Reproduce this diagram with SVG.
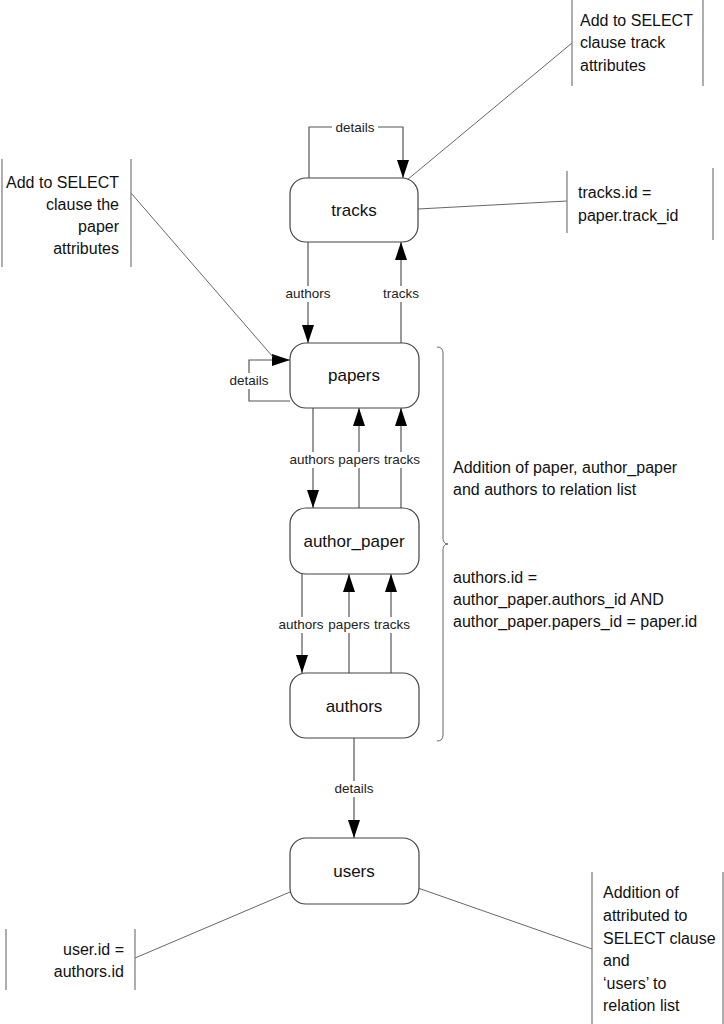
<svg xmlns="http://www.w3.org/2000/svg" width="724" height="1024" viewBox="0 0 724 1024">
<defs>
<marker id="arr" markerUnits="userSpaceOnUse" markerWidth="18" markerHeight="12" viewBox="0 0 18 12" refX="18" refY="6" orient="auto">
<path d="M0,0 L18,6 L0,12 Z" fill="#000"/>
</marker>
<style>
.node rect{fill:#fff;stroke:#444;stroke-width:1.2}
.node text{font-family:"Liberation Sans",Arial,sans-serif;font-size:17px;fill:#111;text-anchor:middle}
.c{fill:none;stroke:#555;stroke-width:1.2}
.a{marker-end:url(#arr)}
.lbl{font-family:"Liberation Sans",Arial,sans-serif;font-size:13.5px;fill:#222;text-anchor:middle}
.bg{fill:#fff}
.note{font-family:"Liberation Sans",Arial,sans-serif;font-size:16px;fill:#111}
.bar{stroke:#777;stroke-width:1.2}
.lead{stroke:#555;stroke-width:0.9;fill:none}
</style>
</defs>
<rect width="724" height="1024" fill="#fff"/>

<g id="connectors">
<path class="c a" d="M309,178 V127 H403 V178"/>
<rect class="bg" x="332" y="120" width="46" height="15"/>
<text class="lbl" x="355" y="132">details</text>
<line class="c a" x1="308" y1="242" x2="308" y2="343"/>
<rect class="bg" x="282" y="286" width="52" height="16"/>
<text class="lbl" x="308" y="298">authors</text>
<line class="c a" x1="401" y1="343" x2="401" y2="242"/>
<rect class="bg" x="380" y="286" width="42" height="16"/>
<text class="lbl" x="401" y="298">tracks</text>
<path class="c a" d="M290,401 H249 V360 H290"/>
<rect class="bg" x="225" y="373" width="48" height="16"/>
<text class="lbl" x="249" y="385">details</text>
<line class="c a" x1="313" y1="408" x2="313" y2="508"/>
<line class="c a" x1="359" y1="508" x2="359" y2="408"/>
<line class="c a" x1="401" y1="508" x2="401" y2="408"/>
<rect class="bg" x="286" y="452" width="138" height="16"/>
<text class="lbl" x="312" y="464">authors</text>
<text class="lbl" x="359" y="464">papers</text>
<text class="lbl" x="402" y="464">tracks</text>
<line class="c a" x1="302" y1="574" x2="302" y2="673"/>
<line class="c a" x1="349" y1="673" x2="349" y2="574"/>
<line class="c a" x1="391" y1="673" x2="391" y2="574"/>
<rect class="bg" x="275" y="617" width="138" height="16"/>
<text class="lbl" x="301" y="629">authors</text>
<text class="lbl" x="349" y="629">papers</text>
<text class="lbl" x="392" y="629">tracks</text>
<line class="c a" x1="354" y1="738" x2="354" y2="838"/>
<rect class="bg" x="330" y="781" width="48" height="16"/>
<text class="lbl" x="354" y="793">details</text>
<line class="lead" x1="407" y1="180" x2="572" y2="43"/>
<line class="lead" x1="418" y1="209" x2="567" y2="201"/>
<line class="lead" x1="131" y1="193" x2="273" y2="357"/>
<line class="lead" x1="135" y1="958" x2="290" y2="892"/>
<line class="lead" x1="418" y1="888" x2="592" y2="949"/>
</g>

<g id="tracks" class="node">
<rect x="290" y="178" width="128" height="64" rx="16"/>
<text x="354" y="216">tracks</text>
</g>
<g id="papers" class="node">
<rect x="290" y="343" width="129" height="65" rx="16"/>
<text x="354" y="381">papers</text>
</g>
<g id="author_paper" class="node">
<rect x="290" y="508" width="129" height="66" rx="16"/>
<text x="354" y="547">author_paper</text>
</g>
<g id="authors" class="node">
<rect x="290" y="673" width="129" height="65" rx="16"/>
<text x="354" y="712">authors</text>
</g>
<g id="users" class="node">
<rect x="290" y="838" width="129" height="66" rx="16"/>
<text x="354" y="877">users</text>
</g>

<g id="note-track-attrs">
<line class="bar" x1="572" y1="0" x2="572" y2="86"/>
<line class="bar" x1="703" y1="0" x2="703" y2="86"/>
<text class="note" x="580" y="26">Add to SELECT</text>
<text class="note" x="580" y="48">clause track</text>
<text class="note" x="580" y="71">attributes</text>
</g>
<g id="note-tracks-id">
<line class="bar" x1="567" y1="171" x2="567" y2="233"/>
<line class="bar" x1="713" y1="168" x2="713" y2="240"/>
<text class="note" x="578" y="198">tracks.id =</text>
<text class="note" x="578" y="221">paper.track_id</text>
</g>
<g id="note-paper-attrs">
<line class="bar" x1="2" y1="159" x2="2" y2="267"/>
<line class="bar" x1="131" y1="159" x2="131" y2="267"/>
<text class="note" x="119" y="188" text-anchor="end">Add to SELECT</text>
<text class="note" x="119" y="210" text-anchor="end">clause the</text>
<text class="note" x="119" y="232" text-anchor="end">paper</text>
<text class="note" x="119" y="254" text-anchor="end">attributes</text>
</g>
<g id="note-relations">
<path class="lead" d="M437,347 Q443,347 443,353 V538 Q443,544 448,544 Q443,544 443,550 V735 Q443,741 437,741"/>
<text class="note" x="453" y="473">Addition of paper, author_paper</text>
<text class="note" x="453" y="495">and authors to relation list</text>
<text class="note" x="453" y="583">authors.id =</text>
<text class="note" x="453" y="605">author_paper.authors_id AND</text>
<text class="note" x="453" y="627">author_paper.papers_id = paper.id</text>
</g>
<g id="note-user-id">
<line class="bar" x1="6" y1="929" x2="6" y2="990"/>
<line class="bar" x1="135" y1="929" x2="135" y2="990"/>
<text class="note" x="124" y="955" text-anchor="end">user.id =</text>
<text class="note" x="124" y="977" text-anchor="end">authors.id</text>
</g>
<g id="note-users">
<line class="bar" x1="592" y1="872" x2="592" y2="1024"/>
<line class="bar" x1="723" y1="872" x2="723" y2="1024"/>
<text class="note" x="603" y="898">Addition of</text>
<text class="note" x="603" y="921">attributed to</text>
<text class="note" x="603" y="944">SELECT clause</text>
<text class="note" x="603" y="966">and</text>
<text class="note" x="603" y="989">‘users’ to</text>
<text class="note" x="603" y="1011">relation list</text>
</g>
</svg>
